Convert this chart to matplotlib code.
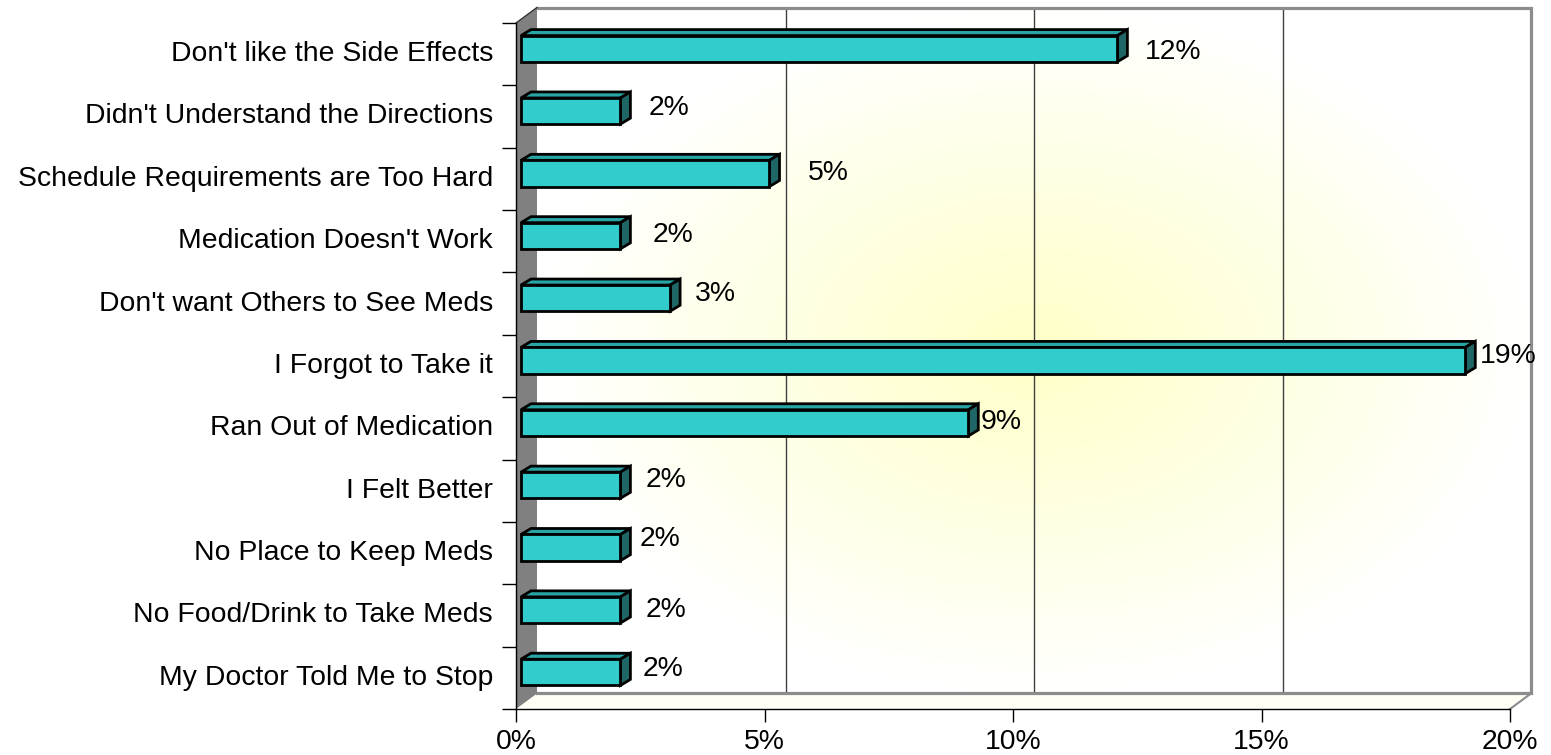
import numpy as np
import matplotlib.pyplot as plt
from matplotlib.patches import Polygon
from matplotlib.colors import LinearSegmentedColormap

plt.rcParams['font.family'] = ['Liberation Sans', 'DejaVu Sans']

categories = ["Don't like the Side Effects",
              "Didn't Understand the Directions",
              "Schedule Requirements are Too Hard",
              "Medication Doesn't Work",
              "Don't want Others to See Meds",
              "I Forgot to Take it",
              "Ran Out of Medication",
              "I Felt Better",
              "No Place to Keep Meds",
              "No Food/Drink to Take Meds",
              "My Doctor Told Me to Stop"]
values = [12, 2, 5, 2, 3, 19, 9, 2, 2, 2, 2]
x_ticks = [0, 5, 10, 15, 20]
x_ticklabels = ['0%', '5%', '10%', '15%', '20%']

# hand placed value labels in the original: nudges in pixels (right, down)
label_dx = [17, 18, 28, 22, 15, 5, 2, 15, 9, 15, 12]
label_dy = [1, -5.5, -3, -3.5, -7, -7.5, -4, -8.5, -11, -2.5, -6]

W, H = 1551, 755
FS = 20.4
fig = plt.figure(figsize=(W / 100, H / 100), dpi=100)
ax = fig.add_axes([516 / W, 46 / H, 994 / W, 686 / H])
n = len(categories)
ax.set_xlim(0, 20)
ax.set_ylim(n - 0.5, -0.5)
ax.patch.set_visible(False)

# fake 3d: depth offsets in pixels (right, up)
WALL = (21, 15.5)
BAR_FRONT = (5, 5.5)
BAR_BACK = (15, 11.5)
TOP, BOT = -0.5, n - 0.5


def shift(x, y, d):
    px, py = ax.transData.transform((x, y))
    return tuple(ax.transData.inverted().transform((px + d[0], py + d[1])))


# back wall, yellow centre fading to white
x0, y0 = shift(0, BOT, WALL)
x1, y1 = shift(20, TOP, WALL)
u, v = np.meshgrid(np.linspace(-1, 1, 400), np.linspace(-1, 1, 300))
r = np.clip(np.hypot(u, v), 0, 1)
wall_cmap = LinearSegmentedColormap.from_list('wall', ['#ffffc8', '#ffffff'])
ax.imshow(r, cmap=wall_cmap, extent=(x0, x1, y0, y1), aspect='auto',
          zorder=0, clip_on=False, interpolation='bilinear')

for gx in x_ticks[1:-1]:
    p, q = shift(gx, TOP, WALL), shift(gx, BOT, WALL)
    ax.plot([p[0], q[0]], [p[1], q[1]], color='#404040', lw=1, zorder=1, clip_on=False)

# floor and left wall
floor = [(0, BOT), (20, BOT), shift(20, BOT, WALL), shift(0, BOT, WALL)]
ax.add_patch(Polygon(floor, closed=True, fc='#fffff6', ec='none', zorder=1.5, clip_on=False))
p = shift(20, BOT, WALL)
ax.plot([20, p[0]], [BOT, p[1]], color='#8c8c8c', lw=1.5, zorder=1.6, clip_on=False)

border = [shift(0, TOP, WALL), shift(20, TOP, WALL), shift(20, BOT, WALL), shift(0, BOT, WALL)]
ax.plot([b[0] for b in border], [b[1] for b in border], color='#8c8c8c', lw=2.3,
        zorder=1.7, clip_on=False, solid_joinstyle='miter')

lwall = [(0, TOP), (0, BOT), shift(0, BOT, WALL), shift(0, TOP, WALL)]
ax.add_patch(Polygon(lwall, closed=True, fc='#808080', ec='none', zorder=2, clip_on=False))
p = shift(0, TOP, WALL)
ax.plot([0, p[0]], [TOP, p[1]], color='#333333', lw=1, zorder=2.1, clip_on=False)

# bars
bh = 0.42
for i, val in enumerate(values):
    t, b = i - bh / 2, i + bh / 2
    front = [shift(0, b, BAR_FRONT), shift(val, b, BAR_FRONT),
             shift(val, t, BAR_FRONT), shift(0, t, BAR_FRONT)]
    top = [shift(0, t, BAR_FRONT), shift(val, t, BAR_FRONT),
           shift(val, t, BAR_BACK), shift(0, t, BAR_BACK)]
    side = [shift(val, b, BAR_FRONT), shift(val, t, BAR_FRONT),
            shift(val, t, BAR_BACK), shift(val, b, BAR_BACK)]
    for pts, fc in [(top, '#2aa5a5'), (side, '#1f6666'), (front, '#33cccc')]:
        ax.add_patch(Polygon(pts, closed=True, fc=fc, ec='black', lw=2.0,
                             joinstyle='miter', zorder=3, clip_on=False))
    ax.annotate('%d%%' % val, xy=(val, i),
                xytext=(BAR_FRONT[0] + 10 + label_dx[i], BAR_FRONT[1] - label_dy[i] - 9.8),
                textcoords='offset pixels', ha='left', va='baseline',
                fontsize=FS, color='black', zorder=4, annotation_clip=False)

# axes
for s in ['top', 'right']:
    ax.spines[s].set_visible(False)
for s in ['left', 'bottom']:
    ax.spines[s].set_color('black')
    ax.spines[s].set_linewidth(1)
    ax.spines[s].set_zorder(5)

ax.set_xticks(x_ticks)
ax.set_xticklabels(x_ticklabels, fontsize=FS)
ax.tick_params(axis='x', length=9.4, width=1, pad=5, colors='black')

ax.set_yticks(np.arange(n + 1) - 0.5)
ax.set_yticklabels([])
ax.set_yticks(np.arange(n) - 0.05, minor=True)
ax.set_yticklabels(categories, minor=True, fontsize=FS)
ax.tick_params(axis='y', which='major', length=10, width=1, colors='black')
ax.tick_params(axis='y', which='minor', length=0, pad=16.5)

fig.savefig('out.png', dpi=100, facecolor='white')
